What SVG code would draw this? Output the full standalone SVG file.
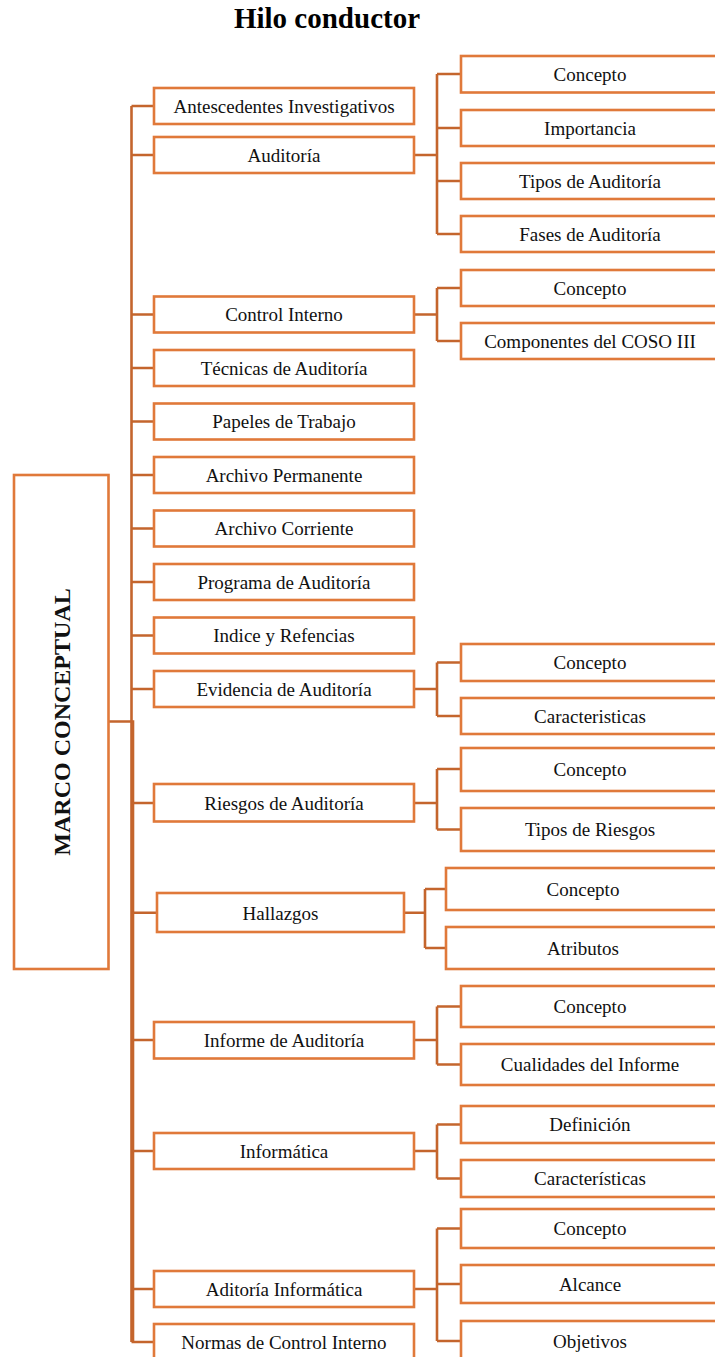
<svg xmlns="http://www.w3.org/2000/svg" width="715" height="1357" viewBox="0 0 715 1357">
<style>
.box{fill:#fff;stroke:#E0793A;stroke-width:2.6}
.t{font-family:"Liberation Serif","Times New Roman",serif;font-size:19px;fill:#111;text-anchor:middle}
.c{fill:none;stroke:#C4652D;stroke-width:2.6}
</style>
<rect width="715" height="1357" fill="#fff"/>
<text x="327" y="28" style="font-family:'Liberation Serif','Times New Roman',serif;font-size:29px;font-weight:bold;text-anchor:middle;fill:#000">Hilo conductor</text>

<g id="connectors">
<path class="c" d="M131.5 106 V1342"/>
<path class="c" d="M108.5 721.5 H133 V1342"/>
<path class="c" d="M131.5 106 H154 M131.5 155 H154 M131.5 314.5 H154 M131.5 368 H154 M131.5 421.5 H154 M131.5 475 H154 M131.5 528.5 H154 M131.5 582 H154 M131.5 635.5 H154 M131.5 689 H154 M131.5 803 H154 M131.5 912.7 H157 M131.5 1040 H154 M131.5 1151 H154 M131.5 1289 H154 M131.5 1342 H154"/>
<path class="c" d="M414 155 H437 M437 74 V234 M437 74 H461 M437 128 H461 M437 181 H461 M437 234 H461"/>
<path class="c" d="M414 314.5 H437 M437 288 V341 M437 288 H461 M437 341 H461"/>
<path class="c" d="M414 689 H437 M437 662.5 V716 M437 662.5 H461 M437 716 H461"/>
<path class="c" d="M414 803 H437 M437 769 V829.5 M437 769 H461 M437 829.5 H461"/>
<path class="c" d="M404 912.7 H425 M425 889 V948 M425 889 H446 M425 948 H446"/>
<path class="c" d="M414 1040 H437 M437 1006.5 V1064.5 M437 1006.5 H461 M437 1064.5 H461"/>
<path class="c" d="M414 1151 H437 M437 1124.5 V1178.5 M437 1124.5 H461 M437 1178.5 H461"/>
<path class="c" d="M414 1289 H437 M437 1228.5 V1341 M437 1228.5 H461 M437 1284 H461 M437 1341 H461"/>
</g>

<g id="marco">
<rect class="box" x="14" y="475" width="94.5" height="494"/>
<text transform="translate(62,722) rotate(-90)" y="8" style="font-family:'Liberation Serif','Times New Roman',serif;font-size:24px;font-weight:bold;text-anchor:middle;fill:#111">MARCO CONCEPTUAL</text>
</g>

<g id="n-antecedentes"><rect class="box" x="154" y="88" width="260" height="36"/><text class="t" x="284" y="112.5">Antescedentes Investigativos</text></g>
<g id="n-auditoria"><rect class="box" x="154" y="137" width="260" height="36"/><text class="t" x="284" y="161.5">Auditoría</text></g>
<g id="n-control"><rect class="box" x="154" y="296.5" width="260" height="36"/><text class="t" x="284" y="321">Control Interno</text></g>
<g id="n-tecnicas"><rect class="box" x="154" y="350" width="260" height="36"/><text class="t" x="284" y="374.5">Técnicas de Auditoría</text></g>
<g id="n-papeles"><rect class="box" x="154" y="403.5" width="260" height="36"/><text class="t" x="284" y="428">Papeles de Trabajo</text></g>
<g id="n-permanente"><rect class="box" x="154" y="457" width="260" height="36"/><text class="t" x="284" y="481.5">Archivo Permanente</text></g>
<g id="n-corriente"><rect class="box" x="154" y="510.5" width="260" height="36"/><text class="t" x="284" y="535">Archivo Corriente</text></g>
<g id="n-programa"><rect class="box" x="154" y="564" width="260" height="36"/><text class="t" x="284" y="588.5">Programa de Auditoría</text></g>
<g id="n-indice"><rect class="box" x="154" y="617.5" width="260" height="36"/><text class="t" x="284" y="642">Indice y Refencias</text></g>
<g id="n-evidencia"><rect class="box" x="154" y="671" width="260" height="36"/><text class="t" x="284" y="695.5">Evidencia de Auditoría</text></g>
<g id="n-riesgos"><rect class="box" x="154" y="784" width="260" height="37.5"/><text class="t" x="284" y="809.5">Riesgos de Auditoría</text></g>
<g id="n-hallazgos"><rect class="box" x="157" y="893" width="247" height="39"/><text class="t" x="280.5" y="919.5">Hallazgos</text></g>
<g id="n-informe"><rect class="box" x="154" y="1022" width="260" height="36.5"/><text class="t" x="284" y="1046.5">Informe de Auditoría</text></g>
<g id="n-informatica"><rect class="box" x="154" y="1133" width="260" height="36"/><text class="t" x="284" y="1157.5">Informática</text></g>
<g id="n-aditoria"><rect class="box" x="154" y="1271" width="260" height="36"/><text class="t" x="284" y="1295.5">Aditoría Informática</text></g>
<g id="n-normas"><rect class="box" x="154" y="1324" width="260" height="40"/><text class="t" x="284" y="1348.5">Normas de Control Interno</text></g>

<g id="c-aud-concepto"><rect class="box" x="461" y="56" width="260" height="36.5"/><text class="t" x="590" y="81">Concepto</text></g>
<g id="c-aud-importancia"><rect class="box" x="461" y="110" width="260" height="36"/><text class="t" x="590" y="134.5">Importancia</text></g>
<g id="c-aud-tipos"><rect class="box" x="461" y="163" width="260" height="36"/><text class="t" x="590" y="187.5">Tipos de Auditoría</text></g>
<g id="c-aud-fases"><rect class="box" x="461" y="216" width="260" height="36"/><text class="t" x="590" y="240.5">Fases de Auditoría</text></g>

<g id="c-ci-concepto"><rect class="box" x="461" y="270" width="260" height="36"/><text class="t" x="590" y="294.5">Concepto</text></g>
<g id="c-ci-coso"><rect class="box" x="461" y="323" width="260" height="36"/><text class="t" x="590" y="347.5">Componentes del COSO III</text></g>

<g id="c-ev-concepto"><rect class="box" x="461" y="644" width="260" height="37"/><text class="t" x="590" y="669">Concepto</text></g>
<g id="c-ev-caract"><rect class="box" x="461" y="698" width="260" height="36"/><text class="t" x="590" y="722.5">Caracteristicas</text></g>

<g id="c-ri-concepto"><rect class="box" x="461" y="748" width="260" height="43"/><text class="t" x="590" y="775.5">Concepto</text></g>
<g id="c-ri-tipos"><rect class="box" x="461" y="808" width="260" height="43"/><text class="t" x="590" y="836">Tipos de Riesgos</text></g>

<g id="c-ha-concepto"><rect class="box" x="446" y="868" width="275" height="42"/><text class="t" x="583" y="895.5">Concepto</text></g>
<g id="c-ha-atributos"><rect class="box" x="446" y="927" width="275" height="42"/><text class="t" x="583" y="954.5">Atributos</text></g>

<g id="c-in-concepto"><rect class="box" x="461" y="986" width="260" height="41"/><text class="t" x="590" y="1013">Concepto</text></g>
<g id="c-in-cualidades"><rect class="box" x="461" y="1044" width="260" height="41"/><text class="t" x="590" y="1071">Cualidades del Informe</text></g>

<g id="c-inf-definicion"><rect class="box" x="461" y="1106" width="260" height="37"/><text class="t" x="590" y="1131">Definición</text></g>
<g id="c-inf-caract"><rect class="box" x="461" y="1160" width="260" height="37"/><text class="t" x="590" y="1185">Características</text></g>

<g id="c-ai-concepto"><rect class="box" x="461" y="1209" width="260" height="39"/><text class="t" x="590" y="1235">Concepto</text></g>
<g id="c-ai-alcance"><rect class="box" x="461" y="1265" width="260" height="38"/><text class="t" x="590" y="1290.5">Alcance</text></g>
<g id="c-ai-objetivos"><rect class="box" x="461" y="1321" width="260" height="42"/><text class="t" x="590" y="1347.5">Objetivos</text></g>
</svg>
